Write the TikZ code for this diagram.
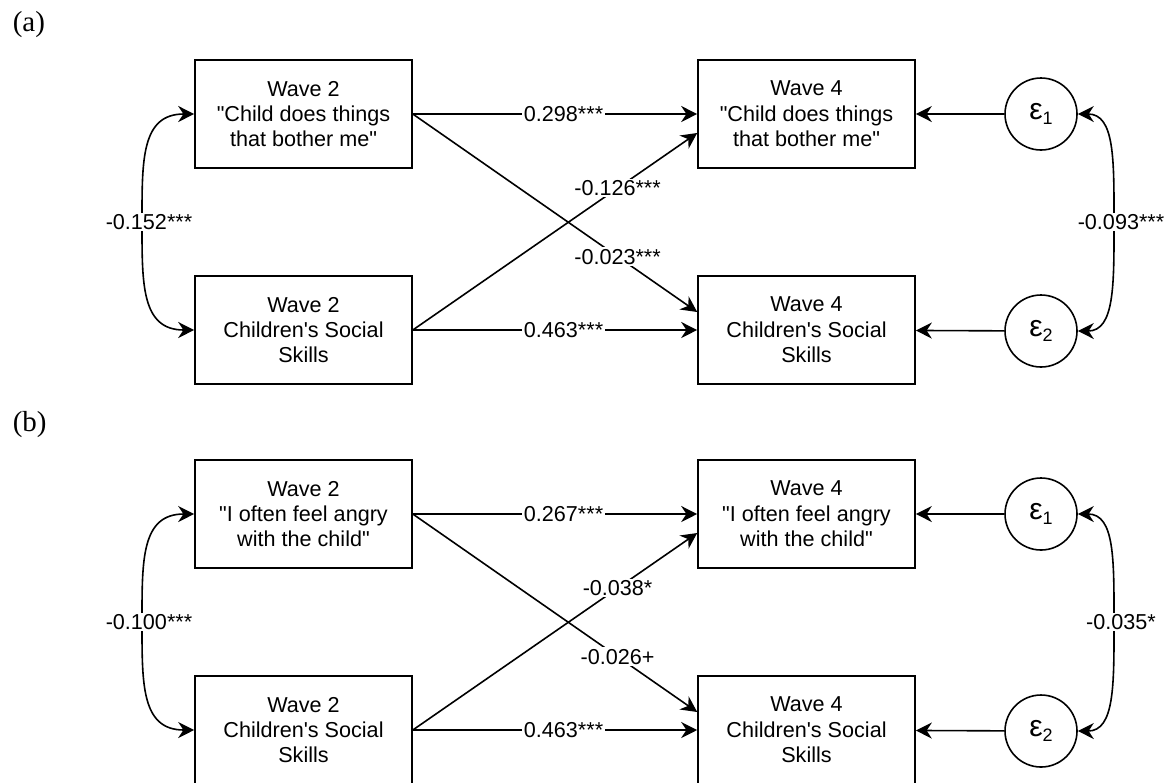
\documentclass[tikz,border=0pt]{standalone}
\usepackage{fontspec}
\setmainfont{Liberation Serif}
\setsansfont{Liberation Sans}
\usetikzlibrary{arrows.meta}

\newcommand{\errlbl}[1]{ε\raisebox{-2.2pt}{\fontsize{9}{9}\selectfont #1}}

\begin{document}
\begin{tikzpicture}[x=.5pt,y=-.5pt,line width=.8pt,
    >={Stealth[length=8pt,width=8pt,inset=2.6pt]},
    var/.style={draw,rectangle,minimum width=108.5pt,minimum height=54pt,inner sep=0pt,align=center,
      font=\sffamily\fontsize{10.8}{12.7}\selectfont},
    err/.style={draw,circle,minimum size=36pt,inner sep=0pt,font=\sffamily\fontsize{15}{16}\selectfont},
    coef/.style={fill=white,inner sep=.8pt,font=\sffamily\fontsize{10.8}{12}\selectfont},
    panel/.style={anchor=west,inner sep=0pt,font=\fontsize{14.5}{16}\selectfont}]
  \clip (0,0) rectangle (1165,782);

  % panel (a)
  \node[panel] (lbla) at (12,25) {(a)};

  \node[var] (A2t) at (303.5,114) {Wave 2\\\textquotedbl Child does things\\that bother me\textquotedbl};
  \node[var] (A2s) at (303.5,330) {Wave 2\\Children\textquotesingle s Social\\Skills};
  \node[var] (A4t) at (806.5,114) {Wave 4\\\textquotedbl Child does things\\that bother me\textquotedbl};
  \node[var] (A4s) at (806.5,330) {Wave 4\\Children\textquotesingle s Social\\Skills};
  \node[err] (Ae1) at (1041,114) {\errlbl{1}};
  \node[err] (Ae2) at (1041,331) {\errlbl{2}};
  \coordinate (Aml) at (142,222);
  \coordinate (Amr) at (1114,222);

  \draw[->] (A2t.east) -- node[coef,pos=.53] {0.298***} (A4t.west);
  \draw[->] (A2s.east) -- node[coef,pos=.53] {0.463***} (A4s.west);
  \draw[->] (A2t.east) -- node[coef,pos=.72] {-0.023***} ([yshift=9pt]A4s.west);
  \draw[->] (A2s.east) -- node[coef,pos=.72] {-0.126***} ([yshift=-9.5pt]A4t.west);
  \draw[->] (Ae1) -- (A4t);
  \draw[->] (Ae2) -- (A4s);
  \draw[<->] (A2t.west) .. controls +(-53,0) and +(0,-62) .. (Aml) .. controls +(0,62) and +(-53,0) .. (A2s.west);
  \draw[<->] (Ae1.east) .. controls +(37,0) and +(0,-62) .. (Amr) .. controls +(0,62) and +(37,0) .. (Ae2.east);
  \node[coef,xshift=3.5pt] (Acl) at (Aml) {-0.152***};
  \node[coef,xshift=3.5pt] (Acr) at (Amr) {-0.093***};

  % panel (b)
  \begin{scope}[shift={(0,400)}]
  \node[panel] (lblb) at (12,25) {(b)};

  \node[var] (B2t) at (303.5,114) {Wave 2\\\textquotedbl I often feel angry\\with the child\textquotedbl};
  \node[var] (B2s) at (303.5,330) {Wave 2\\Children\textquotesingle s Social\\Skills};
  \node[var] (B4t) at (806.5,114) {Wave 4\\\textquotedbl I often feel angry\\with the child\textquotedbl};
  \node[var] (B4s) at (806.5,330) {Wave 4\\Children\textquotesingle s Social\\Skills};
  \node[err] (Be1) at (1041,114) {\errlbl{1}};
  \node[err] (Be2) at (1041,331) {\errlbl{2}};
  \coordinate (Bml) at (142,222);
  \coordinate (Bmr) at (1114,222);

  \draw[->] (B2t.east) -- node[coef,pos=.53] {0.267***} (B4t.west);
  \draw[->] (B2s.east) -- node[coef,pos=.53] {0.463***} (B4s.west);
  \draw[->] (B2t.east) -- node[coef,pos=.72] {-0.026+} ([yshift=9pt]B4s.west);
  \draw[->] (B2s.east) -- node[coef,pos=.72] {-0.038*} ([yshift=-9.5pt]B4t.west);
  \draw[->] (Be1) -- (B4t);
  \draw[->] (Be2) -- (B4s);
  \draw[<->] (B2t.west) .. controls +(-53,0) and +(0,-62) .. (Bml) .. controls +(0,62) and +(-53,0) .. (B2s.west);
  \draw[<->] (Be1.east) .. controls +(37,0) and +(0,-62) .. (Bmr) .. controls +(0,62) and +(37,0) .. (Be2.east);
  \node[coef,xshift=3.5pt] (Bcl) at (Bml) {-0.100***};
  \node[coef,xshift=3.5pt] (Bcr) at (Bmr) {-0.035*};
  \end{scope}
\end{tikzpicture}
\end{document}
